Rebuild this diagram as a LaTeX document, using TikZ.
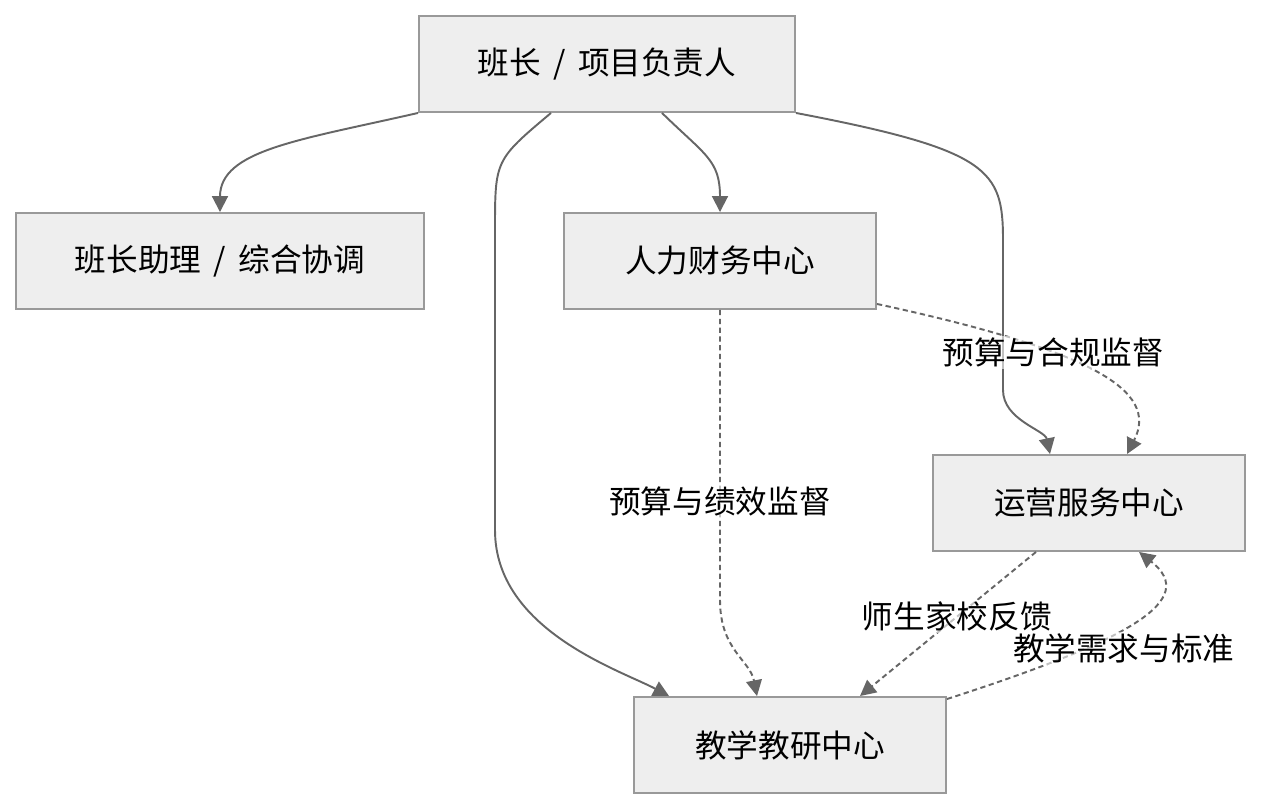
\documentclass[tikz,border=0pt]{standalone}
\usepackage{fontspec}
\setmainfont{Noto Sans CJK SC}
\usetikzlibrary{positioning,arrows.meta}
\definecolor{boxfill}{HTML}{EEEEEE}
\definecolor{boxline}{HTML}{999999}
\definecolor{linkgray}{HTML}{666666}
\tikzset{
node distance=4cm, % centre to centre, we work on grid
unit/.style={draw=boxline, fill=boxfill, line width=1.1pt, minimum width=6.24cm, minimum height=1.92cm, font=\fontsize{18}{22}\selectfont},
link/.style={draw=linkgray, line width=1.1pt, -{Triangle[length=9pt,width=9pt]}},
watch/.style={link, dash pattern=on 3pt off 2pt},
tag/.style={fill=white, fill opacity=0.6, text opacity=1, inner sep=1pt, font=\fontsize{18}{22}\selectfont},
}

\begin{document}
\begin{tikzpicture}[on grid]
   \useasboundingbox (0,0) rectangle (25.22,-16.2);
   \node[unit, minimum width=7.52cm] (lead) at (12.14,-1.28) {班长 \,/\, 项目负责人};
   \node[unit, minimum width=8.16cm] (assist) [below left=3.94cm and 7.74cm of lead] {班长助理 \,/\, 综合协调};
   \node[unit] (hr) [below right=3.94cm and 2.26cm of lead] {人力财务中心};
   \node[unit] (ops) [below right=4.84cm and 7.38cm of hr] {运营服务中心};
   \node[unit] (teach) [below right=9.68cm and 1.4cm of hr] {教学教研中心};
   % solid lines from the lead
   \draw[link] (lead.south west) .. controls (6.0,-2.8) and (4.4,-3.0) .. (assist.north);
   \draw[link] ([xshift=-1.12cm]lead.south) .. controls (9.9,-3.2) .. (9.9,-4.6)
      -- (9.9,-10.6) .. controls (9.9,-12.6) and (12.4,-13.4) .. ([xshift=0.72cm]teach.north west);
   \draw[link] ([xshift=1.1cm]lead.south) .. controls (14.1,-3.1) and (14.4,-3.2) .. (hr.north);
   \draw[link] (lead.south east) .. controls (19.8,-3.0) and (20.06,-3.4) .. (20.06,-4.8)
      -- (20.06,-7.8) .. controls (20.06,-8.4) and (20.9,-8.6) .. ([xshift=-0.78cm]ops.north);
   % dashed lines
   \draw[watch] ([yshift=0.12cm]hr.south east) .. controls (21.8,-7.0) and (23.2,-7.8)
      .. node[tag,pos=0.36] (budget1) {预算与合规监督} ([xshift=0.76cm]ops.north);
   \draw[watch] (hr.south) -- node[tag,pos=0.66] (budget2) {预算与绩效监督} (14.4,-12.0)
      .. controls (14.4,-13.0) and (15.0,-13.2) .. ([xshift=-0.66cm]teach.north);
   \draw[watch] ([xshift=-1.06cm]ops.south) -- node[tag,pos=0.45] (feedback) {师生家校反馈} ([xshift=1.4cm]teach.north);
   \draw[watch] ([yshift=-0.06cm]teach.north east) .. controls (22.6,-12.8) and (24.0,-12.0)
      .. node[tag,pos=0.45,yshift=-0.4cm] (needs) {教学需求与标准} ([xshift=1.0cm]ops.south);
\end{tikzpicture}
\end{document}
